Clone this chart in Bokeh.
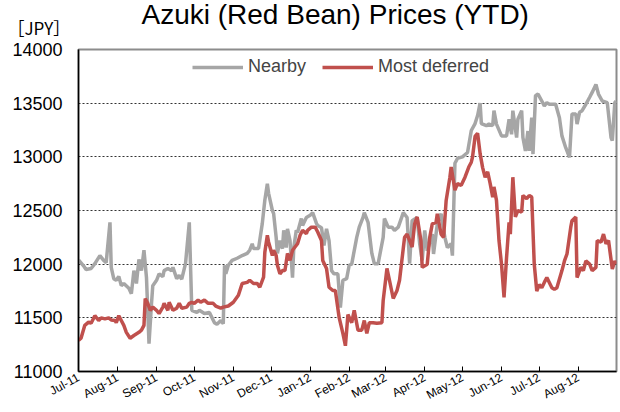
import numpy as np
from datetime import datetime
from bokeh.plotting import figure
from bokeh.models import (Range1d, SingleIntervalTicker, MonthsTicker, DatetimeTickFormatter,
                          Title, Legend, LegendItem)
from bokeh.embed import file_html
from bokeh.resources import INLINE

# ---------------- data ----------------
START = np.datetime64("2011-07-01")

# day offsets from 2011-07-01 and prices (JPY)
nearby_days = [0, 4, 6, 10, 13, 17, 20, 22, 25, 26, 28, 30, 32, 34, 36, 40, 42, 44, 46, 48, 50, 52, 54, 56,
               58, 59, 62, 64, 67, 68, 71, 74, 75, 78, 80, 82, 85, 88, 90, 94, 96, 100, 104, 108, 110, 113,
               115, 116, 117, 119, 122, 126, 130, 134, 136, 138, 139, 143, 146, 148, 150, 151, 154, 155, 157,
               158, 160, 162, 163, 165, 166, 168, 170, 171, 173, 174, 177, 178, 181, 184, 186, 189, 190, 193,
               195, 197, 199, 201, 203, 206, 208, 210, 213, 215, 217, 221, 223, 226, 227, 230, 233, 235, 238,
               242, 243, 246, 249, 251, 254, 258, 261, 263, 265, 269, 271, 273, 275, 277, 281, 282, 285, 288,
               291, 293, 296, 297, 299, 301, 305, 309, 312, 315, 317, 319, 320, 321, 324, 326, 329, 330, 332,
               336, 340, 342, 344, 345, 348, 349, 352, 353, 355, 357, 358, 360, 361, 363, 365, 368, 370, 372,
               374, 379, 382, 384, 387, 390, 392, 395, 396, 398, 400, 403, 406, 408, 411, 413, 416, 420, 423,
               424, 426, 427]
nearby_vals = [12040, 11985, 11950, 11960, 12005, 12080, 12035, 12015, 12390, 11970, 11865, 11850, 11885,
               11800, 11820, 11775, 11725, 11940, 11820, 12045, 11940, 12130, 11875, 11260, 11635, 11800,
               11850, 11910, 11885, 11940, 11960, 11940, 11970, 11865, 11895, 11860, 12005, 12390, 11570,
               11550, 11570, 11540, 11550, 11455, 11440, 11475, 11445, 11990, 11910, 11990, 12035, 12055,
               12080, 12100, 12130, 12190, 12145, 12145, 12380, 12595, 12750, 12660, 12500, 12470, 12250,
               12100, 12220, 12145, 12315, 12155, 12330, 12220, 11875, 12155, 12315, 12295, 12425, 12360,
               12435, 12455, 12480, 12380, 12360, 12340, 12175, 12330, 12220, 11940, 11910, 11910, 11595,
               11850, 11865, 11990, 12000, 12250, 12345, 12435, 12480, 12390, 12100, 12005, 12005, 12250,
               12425, 12345, 12345, 12315, 12345, 12480, 12435, 12005, 12405, 12435, 12190, 12035, 12315,
               12125, 12280, 12095, 12375, 12470, 12250, 12155, 12190, 12080, 12940, 12985, 13000, 13040,
               13245, 13310, 13385, 13500, 13310, 13305, 13290, 13305, 13290, 13430, 13305, 13195, 13195,
               13350, 13210, 13430, 13180, 13350, 13430, 13180, 13055, 13240, 13055, 13365, 13025, 13570,
               13585, 13520, 13475, 13505, 13490, 13490, 13365, 13195, 13085, 12995, 13400, 13400, 13305,
               13415, 13430, 13490, 13555, 13600, 13675, 13585, 13520, 13505, 13180, 13150, 13505, 13520]

deferred_days = [0, 2, 5, 8, 10, 13, 16, 18, 21, 24, 26, 29, 30, 32, 36, 38, 41, 44, 48, 50, 52, 53, 55, 57,
                 59, 62, 64, 67, 68, 71, 72, 75, 78, 80, 82, 86, 88, 90, 92, 95, 97, 100, 103, 107, 109, 113,
                 115, 119, 123, 127, 130, 134, 136, 139, 142, 144, 147, 148, 150, 151, 154, 155, 157, 158, 160,
                 162, 164, 166, 168, 170, 174, 176, 178, 181, 182, 185, 188, 190, 193, 194, 197, 199, 202, 204,
                 207, 210, 212, 214, 217, 219, 222, 225, 227, 229, 231, 234, 237, 241, 242, 245, 247, 250, 253,
                 255, 258, 259, 261, 265, 267, 269, 272, 273, 277, 279, 281, 284, 285, 288, 290, 292, 295, 296,
                 299, 301, 304, 307, 310, 312, 313, 315, 317, 319, 321, 323, 325, 327, 329, 330, 332, 334, 336,
                 338, 340, 342, 343, 345, 347, 349, 352, 353, 356, 358, 360, 362, 364, 366, 368, 370, 372, 376,
                 378, 380, 384, 386, 388, 391, 392, 395, 396, 399, 401, 403, 406, 408, 411, 412, 415, 417, 419,
                 421, 424, 426, 427]
deferred_vals = [11290, 11310, 11430, 11460, 11450, 11520, 11475, 11500, 11490, 11500, 11480, 11475, 11455,
                 11520, 11430, 11365, 11310, 11335, 11365, 11385, 11430, 11680, 11635, 11570, 11600, 11570,
                 11540, 11600, 11635, 11570, 11645, 11570, 11590, 11635, 11590, 11600, 11635, 11645, 11635,
                 11665, 11645, 11665, 11635, 11635, 11610, 11590, 11600, 11610, 11645, 11710, 11820, 11830,
                 11850, 11820, 11820, 11785, 11880, 12110, 12270, 12205, 12080, 12130, 12080, 11990, 11910,
                 11940, 11940, 12100, 12035, 12130, 12190, 12270, 12315, 12285, 12315, 12345, 12345, 12300,
                 12220, 12035, 11960, 11785, 11755, 11755, 11505, 11355, 11240, 11530, 11455, 11570, 11385,
                 11385, 11475, 11355, 11455, 11455, 11450, 11455, 11660, 11960, 11850, 11680, 11755, 11850,
                 12150, 12250, 12280, 12160, 12375, 12440, 12220, 11970, 12000, 12250, 12375, 12390, 12470,
                 12280, 12250, 12590, 12810, 12905, 12690, 12750, 12735, 12810, 12905, 12950, 13000, 13190,
                 13220, 13030, 12900, 12810, 12860, 12750, 12625, 12720, 12595, 12220, 12000, 11690, 12060,
                 12390, 12280, 12810, 12440, 12500, 12485, 12640, 12610, 12640, 12625, 12000, 11750, 11810,
                 11780, 11830, 11875, 11780, 11765, 11780, 11940, 12030, 12095, 12345, 12405, 12440, 11875,
                 11970, 11940, 12030, 12000, 11940, 11970, 12220, 12205, 12280, 12190, 12220, 11955, 12030,
                 12000]

y_ticks = list(range(11000, 14001, 500))
series_labels = ["Nearby", "Most deferred"]
title_text = "Azuki (Red Bean) Prices (YTD)"
unit_text = "［JPY］"

nearby_dates = START + np.array(nearby_days, dtype="timedelta64[D]")
deferred_dates = START + np.array(deferred_days, dtype="timedelta64[D]")

# ---------------- figure ----------------
p = figure(width=620, height=412, x_axis_type="datetime", output_backend="svg",
           toolbar_location=None,
           x_range=Range1d(datetime(2011, 7, 1), datetime(2012, 8, 31, 8)),
           y_range=Range1d(11000, 14000),
           min_border_left=78, min_border_right=4, min_border_top=49, min_border_bottom=41)
p.title.text = ""
p.title.visible = False
p.background_fill_color = "white"
p.border_fill_color = "white"
p.outline_line_color = "#8C8C8C"
p.outline_line_width = 2

# y axis
yax = p.yaxis[0]
yax.ticker = SingleIntervalTicker(interval=500)
yax.major_label_text_font = "Liberation Sans"
yax.major_label_text_font_size = "18px"
yax.major_label_text_color = "black"
yax.major_tick_in = 0
yax.major_tick_out = 0
yax.minor_tick_in = 0
yax.minor_tick_out = 0
yax.axis_line_color = "black"
yax.axis_line_width = 1.5
yax.major_label_standoff = 16

# x axis
xax = p.xaxis[0]
xax.ticker = MonthsTicker(months=list(range(12)))
fmt = "%b-%y"
xax.formatter = DatetimeTickFormatter(months=fmt, days=fmt, years=fmt, hours=fmt, hourmin=fmt)
xax.major_label_orientation = 0.5
xax.major_label_text_font = "Liberation Sans"
xax.major_label_text_font_size = "12px"
xax.major_label_text_color = "black"
xax.major_tick_in = 5
xax.major_tick_out = 0
xax.minor_tick_in = 0
xax.minor_tick_out = 0
xax.axis_line_color = "black"
xax.axis_line_width = 1.5
xax.major_tick_line_color = "black"
xax.major_label_standoff = 5

# grid
p.xgrid.visible = False
p.ygrid.ticker = SingleIntervalTicker(interval=500)
p.ygrid.grid_line_color = "#333333"
p.ygrid.grid_line_dash = "2 2"
p.ygrid.grid_line_width = 1

# lines
r1 = p.line(nearby_dates, nearby_vals, line_color="#A6A6A6", line_width=3.5)
r2 = p.line(deferred_dates, deferred_vals, line_color="#C0504D", line_width=3.5)

legend = Legend(items=[LegendItem(label=series_labels[0], renderers=[r1]),
                       LegendItem(label=series_labels[1], renderers=[r2])],
                orientation="horizontal", location=(114, 294),
                border_line_color=None, background_fill_alpha=0,
                label_text_font="Liberation Sans", label_text_font_size="18px",
                glyph_width=51, glyph_height=20, spacing=16, padding=0, margin=0,
                label_standoff=5)
p.add_layout(legend)

# unit label (closest to frame) and main title (outer) in the top panel
unit_title = Title(text=unit_text, align="left", offset=-71, standoff=20,
                   text_font="Noto Sans CJK JP", text_font_size="17px",
                   text_font_style="normal", text_color="black")
p.add_layout(unit_title, "above")
main_title = Title(text=title_text, align="left", offset=63, standoff=-55,
                   text_font="Liberation Sans", text_font_size="28px",
                   text_font_style="normal", text_color="black")
p.add_layout(main_title, "above")

open("out.html", "w").write(file_html(p, INLINE))
